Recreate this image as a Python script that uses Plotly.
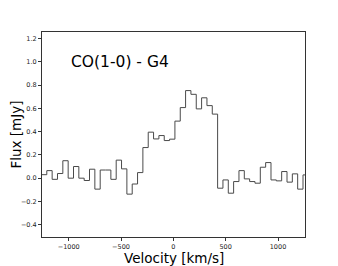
import numpy as np
import plotly.graph_objects as go

# Channel left edges [km/s] and flux [mJy]
channel_width = 51.0
vel_left_edges = -1260.0 + channel_width * np.arange(50)
flux = [0.03, 0.065, -0.01, 0.04, 0.15, 0.0, 0.10, 0.0, -0.02, 0.077,
        -0.094, 0.07, 0.07, -0.01, 0.155, 0.08, -0.137, -0.05, 0.048, 0.263,
        0.395, 0.337, 0.366, 0.323, 0.335, 0.49, 0.606, 0.752, 0.72, 0.595,
        0.69, 0.623, 0.55, -0.086, -0.015, -0.129, -0.029, 0.065, -0.006, -0.029,
        -0.043, 0.094, 0.134, -0.015, -0.023, 0.057, -0.034, 0.037, -0.094, 0.028]
x_ticks = [-1000, -500, 0, 500, 1000]
y_ticks = [-0.4, -0.2, 0.0, 0.2, 0.4, 0.6, 0.8, 1.0, 1.2]
label = "CO(1-0) - G4"
x_title = "Velocity [km/s]"
y_title = "Flux [mJy]"

xs = list(vel_left_edges) + [vel_left_edges[-1] + channel_width]
ys = list(flux) + [flux[-1]]

FONT = "DejaVu Sans"
fig = go.Figure()
fig.add_trace(go.Scatter(x=xs, y=ys, mode="lines", line_shape="hv",
                         line=dict(color="#4a4a4a", width=1), showlegend=False,
                         hoverinfo="skip"))
fig.add_annotation(x=-1000, y=1.0, xref="x", yref="y", text=label, showarrow=False,
                   xanchor="left", yanchor="middle",
                   font=dict(family=FONT, size=15.5, color="black"))
fig.add_annotation(x=0.5, y=0, xref="paper", yref="paper", text=x_title, showarrow=False,
                   xanchor="center", yanchor="top", yshift=-12, borderpad=0,
                   font=dict(family=FONT, size=13.5, color="black"))
fig.add_annotation(x=0, y=0.5, xref="paper", yref="paper", text=y_title, showarrow=False,
                   xanchor="center", yanchor="middle", xshift=-27, textangle=-90,
                   borderpad=0,
                   font=dict(family=FONT, size=13.5, color="black"))
axis_common = dict(showgrid=False, zeroline=False, showline=True, linecolor="#333",
                   linewidth=1, mirror=True, ticks="outside", ticklen=3,
                   tickcolor="#333", tickwidth=0.8, automargin=False,
                   tickfont=dict(family=FONT, size=6.5, color="#222"))
fig.update_xaxes(range=[-1255, 1258], tickvals=x_ticks, **axis_common)
fig.update_yaxes(range=[-0.505, 1.255], tickvals=y_ticks, tickformat=".1f", **axis_common)
fig.update_layout(width=330, height=258, margin=dict(l=34, r=33, t=24, b=29),
                  paper_bgcolor="white", plot_bgcolor="white",
                  font=dict(family=FONT))
fig.write_html("out.html")
